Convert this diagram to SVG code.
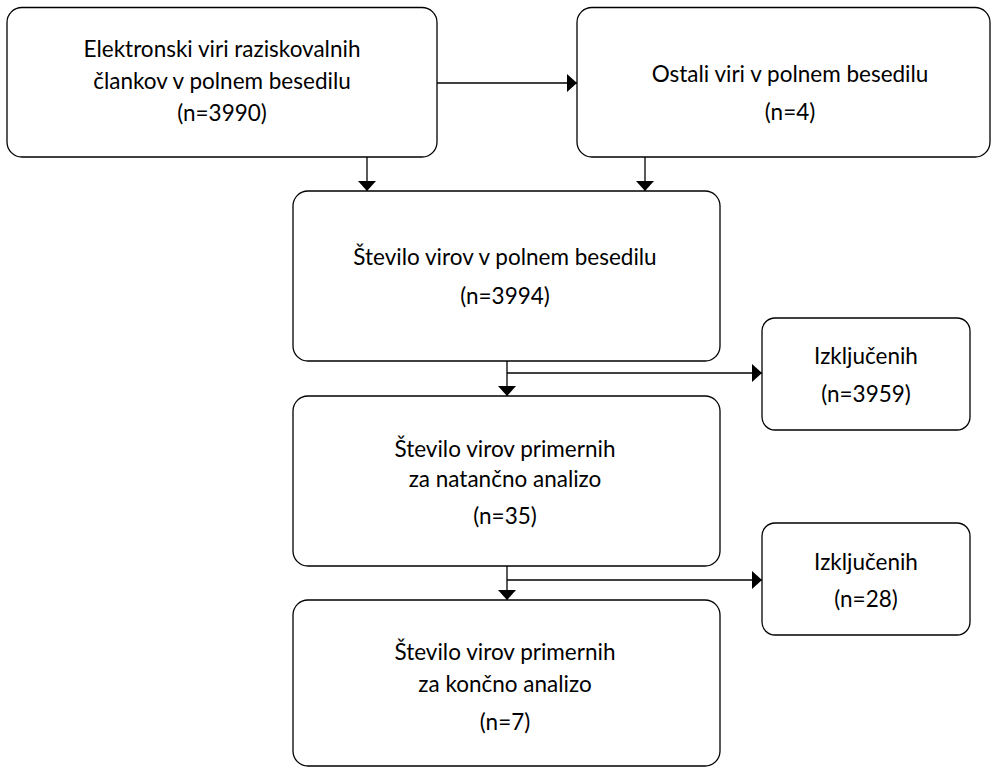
<svg xmlns="http://www.w3.org/2000/svg" width="992" height="767" viewBox="0 0 992 767">
<style>
.box{fill:#fff;stroke:#000;stroke-width:1.3}
.t{font-family:Lato,"Open Sans","Liberation Sans",sans-serif;font-size:22.5px;fill:#000;text-anchor:middle}
.ln{fill:none;stroke:#000;stroke-width:1.3}
</style>
<defs>
<marker id="ah" viewBox="0 0 10 18" refX="10" refY="9" markerWidth="10" markerHeight="18" markerUnits="userSpaceOnUse" orient="auto">
<path d="M0,0 L10,9 L0,18 Z" fill="#000"/>
</marker>
</defs>
<rect width="992" height="767" fill="#fff"/>
<g id="connectors">
<line class="ln" x1="437" y1="83" x2="577" y2="83" marker-end="url(#ah)"/>
<line class="ln" x1="367" y1="157" x2="367" y2="191" marker-end="url(#ah)"/>
<line class="ln" x1="645" y1="157" x2="645" y2="191" marker-end="url(#ah)"/>
<line class="ln" x1="507" y1="361" x2="507" y2="396" marker-end="url(#ah)"/>
<line class="ln" x1="507" y1="373" x2="762" y2="373" marker-end="url(#ah)"/>
<line class="ln" x1="507" y1="566" x2="507" y2="600" marker-end="url(#ah)"/>
<line class="ln" x1="507" y1="580" x2="762" y2="580" marker-end="url(#ah)"/>
</g>
<g id="n1">
<rect class="box" x="7" y="7.5" width="430" height="149.5" rx="15"/>
<text class="t" x="222" y="57">Elektronski viri raziskovalnih</text>
<text class="t" x="222" y="89">člankov v polnem besedilu</text>
<text class="t" x="222" y="121">(n=3990)</text>
</g>
<g id="n2">
<rect class="box" x="577" y="7.5" width="413" height="149.5" rx="15"/>
<text class="t" x="790" y="82">Ostali viri v polnem besedilu</text>
<text class="t" x="790" y="120">(n=4)</text>
</g>
<g id="n3">
<rect class="box" x="293" y="191" width="427" height="170" rx="15"/>
<text class="t" x="505" y="265">Število virov v polnem besedilu</text>
<text class="t" x="505" y="304">(n=3994)</text>
</g>
<g id="n4">
<rect class="box" x="762" y="318" width="208" height="112" rx="13"/>
<text class="t" x="866" y="364">Izključenih</text>
<text class="t" x="866" y="402">(n=3959)</text>
</g>
<g id="n5">
<rect class="box" x="293" y="396" width="427" height="170" rx="15"/>
<text class="t" x="505" y="457">Število virov primernih</text>
<text class="t" x="505" y="487">za natančno analizo</text>
<text class="t" x="505" y="524">(n=35)</text>
</g>
<g id="n6">
<rect class="box" x="762" y="523" width="208" height="112" rx="13"/>
<text class="t" x="866" y="570">Izključenih</text>
<text class="t" x="866" y="607">(n=28)</text>
</g>
<g id="n7">
<rect class="box" x="293" y="600" width="427" height="166" rx="15"/>
<text class="t" x="505" y="660">Število virov primernih</text>
<text class="t" x="505" y="692">za končno analizo</text>
<text class="t" x="505" y="730">(n=7)</text>
</g>
</svg>
